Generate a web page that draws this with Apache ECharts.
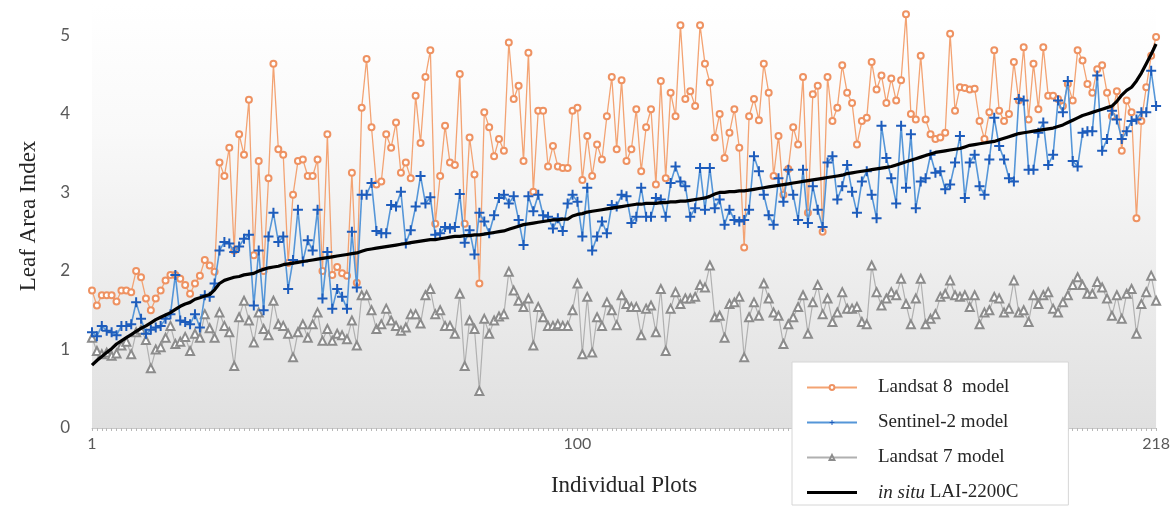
<!DOCTYPE html>
<html>
<head>
<meta charset="utf-8">
<script src="https://cdn.jsdelivr.net/npm/echarts@6/dist/echarts.min.js"></script>
<style>html,body{margin:0;padding:0;background:#fff}#c{width:1173px;height:513px}</style>
</head>
<body>
<div id="c"></div>
<script>
// ---- data ----
const plots = Array.from({length: 218}, (_, i) => String(i + 1));
const xTickLabels = ['1', '100', '218'];
const yTickLabels = [0, 1, 2, 3, 4, 5];

const landsat8 = [
1.75,1.56,1.69,1.69,1.69,1.61,1.75,1.75,1.73,2.00,1.92,1.65,1.50,1.65,1.75,1.88,1.95,1.95,1.90,1.82,
1.71,1.84,1.94,2.14,2.07,1.99,3.38,3.21,3.57,2.26,3.74,3.48,4.18,2.20,3.40,2.00,3.18,4.64,3.55,3.48,
2.10,2.97,3.40,3.42,3.21,3.21,3.42,2.00,3.74,1.95,2.05,1.97,1.94,3.25,1.85,4.08,4.70,3.83,3.10,3.14,
3.74,3.57,3.89,3.25,3.38,3.18,4.23,3.63,4.47,4.81,2.60,3.21,3.85,3.38,3.35,4.51,2.60,3.70,3.23,1.84,
4.02,3.83,3.46,3.68,3.53,4.91,4.19,4.36,3.40,4.78,3.01,4.04,4.04,3.33,3.59,3.33,3.31,3.31,4.04,4.08,
3.16,3.72,3.21,3.61,3.42,3.97,4.47,3.55,4.43,3.40,3.55,4.06,3.27,3.83,4.06,3.10,4.42,3.18,4.27,3.97,
5.13,4.19,4.29,4.10,5.13,4.64,4.40,3.70,4.00,3.44,3.76,4.06,3.57,2.30,3.97,4.19,3.92,4.64,4.27,3.21,
3.72,2.97,3.30,3.83,3.61,4.47,2.74,4.25,4.36,2.50,4.47,3.91,4.08,4.62,4.27,4.14,3.61,3.91,3.95,4.66,
4.31,4.49,4.14,4.45,4.17,4.43,5.27,4.00,3.93,4.74,3.93,3.74,3.68,3.70,3.76,5.02,4.04,4.34,4.33,4.31,
4.32,3.91,3.68,4.02,4.81,4.04,3.91,4.00,4.66,4.17,4.85,3.93,4.64,4.06,4.85,4.23,4.23,4.19,4.10,4.38,
4.17,4.81,4.68,4.38,4.27,4.57,4.62,4.27,3.97,4.29,3.53,4.17,4.02,2.67,3.91,4.34,4.74,4.98
];
const sentinel2 = [
1.22,1.17,1.30,1.24,1.22,1.18,1.30,1.30,1.32,1.60,1.39,1.20,1.25,1.28,1.30,1.39,1.45,1.95,1.37,1.35,
1.32,1.45,1.28,1.69,1.67,1.84,2.26,2.37,2.35,2.24,2.31,2.41,2.46,1.56,2.26,1.50,2.44,2.74,2.37,2.44,
1.77,2.14,2.78,2.12,2.39,2.26,2.78,1.65,2.24,1.52,1.77,1.67,1.52,2.50,1.79,2.97,2.97,3.12,2.51,2.48,
2.48,2.84,2.82,3.01,2.35,2.52,2.82,3.21,2.86,2.94,2.46,2.48,2.56,2.54,2.56,2.98,2.36,2.52,2.21,2.74,
2.63,2.48,2.71,2.93,2.97,2.86,2.95,2.65,2.33,2.95,2.76,2.97,2.71,2.69,2.54,2.67,2.51,2.86,2.97,2.88,
2.44,3.06,2.26,2.44,2.63,2.48,2.84,2.82,2.97,2.95,2.61,2.69,3.06,2.69,2.69,2.93,2.91,2.69,3.12,3.33,
3.14,3.08,2.69,2.80,3.31,2.78,3.31,2.80,2.91,2.59,2.78,2.65,2.63,2.65,2.78,3.46,3.27,2.97,2.71,2.59,
3.18,2.88,3.29,2.97,2.65,3.29,2.61,3.08,2.78,2.56,3.38,3.46,2.91,3.08,3.35,3.01,2.74,3.14,3.27,2.97,
2.67,3.85,3.44,3.18,2.86,3.85,3.06,3.74,2.80,3.14,3.18,3.48,3.25,3.27,3.04,3.10,3.38,3.72,2.93,3.38,
3.48,3.08,2.97,3.42,3.95,3.59,3.42,3.18,3.14,4.19,4.17,3.29,3.29,3.76,3.89,3.35,3.48,4.17,4.02,4.42,
3.40,3.33,3.76,3.78,3.78,4.49,3.53,3.68,4.04,3.93,3.68,3.78,3.91,3.93,4.02,4.02,4.55,4.10
];
const landsat7 = [
1.15,0.98,0.94,0.96,0.92,0.95,1.05,1.10,0.94,1.22,1.25,1.12,0.76,1.00,1.03,1.15,1.30,1.07,1.10,1.16,
0.98,1.20,1.15,1.45,1.27,1.15,1.47,1.30,1.22,0.79,1.41,1.62,1.37,1.09,1.47,1.26,1.18,1.62,1.32,1.30,
1.20,0.90,1.22,1.32,1.15,1.32,1.47,1.11,1.26,1.11,1.20,1.18,1.13,1.37,1.05,1.69,1.69,1.50,1.26,1.32,
1.52,1.37,1.30,1.24,1.28,1.45,1.45,1.33,1.69,1.77,1.45,1.50,1.30,1.30,1.20,1.71,0.79,1.37,1.26,0.47,
1.39,1.20,1.37,1.42,1.45,1.99,1.75,1.62,1.54,1.65,1.05,1.54,1.41,1.30,1.30,1.32,1.30,1.30,1.50,1.84,
0.94,1.67,0.96,1.41,1.30,1.60,1.50,1.31,1.69,1.58,1.54,1.54,1.18,1.52,1.56,1.22,1.77,0.98,1.52,1.73,
1.58,1.65,1.65,1.67,1.82,1.79,2.07,1.41,1.43,1.15,1.58,1.60,1.67,0.90,1.41,1.60,1.43,1.84,1.65,1.47,
1.43,1.07,1.32,1.41,1.54,1.69,1.20,1.60,1.82,1.45,1.65,1.35,1.47,1.73,1.52,1.52,1.54,1.35,1.32,2.07,
1.73,1.56,1.65,1.73,1.69,1.90,1.58,1.32,1.65,1.90,1.32,1.39,1.45,1.67,1.71,1.88,1.69,1.67,1.69,1.54,
1.69,1.32,1.47,1.50,1.67,1.65,1.47,1.52,1.88,1.47,1.50,1.35,1.69,1.58,1.69,1.73,1.52,1.47,1.60,1.69,
1.82,1.92,1.82,1.71,1.71,1.86,1.79,1.65,1.43,1.69,1.39,1.71,1.77,1.20,1.58,1.73,1.94,1.62
];
const inSitu = [
0.80,0.86,0.91,0.96,1.01,1.07,1.11,1.15,1.19,1.23,1.27,1.30,1.34,1.38,1.41,1.44,1.47,1.51,1.55,1.58,
1.60,1.64,1.66,1.68,1.70,1.76,1.84,1.88,1.90,1.92,1.93,1.95,1.96,1.97,2.00,2.02,2.04,2.05,2.06,2.08,
2.09,2.10,2.11,2.12,2.13,2.14,2.15,2.16,2.17,2.18,2.19,2.20,2.21,2.22,2.23,2.25,2.27,2.28,2.29,2.30,
2.31,2.32,2.33,2.34,2.35,2.36,2.37,2.38,2.39,2.40,2.40,2.41,2.42,2.43,2.44,2.44,2.45,2.45,2.46,2.46,
2.47,2.48,2.49,2.50,2.51,2.53,2.55,2.57,2.59,2.60,2.61,2.62,2.63,2.64,2.65,2.65,2.66,2.66,2.70,2.72,
2.73,2.75,2.76,2.77,2.78,2.79,2.80,2.81,2.82,2.83,2.84,2.85,2.85,2.86,2.86,2.86,2.87,2.87,2.88,2.88,
2.89,2.89,2.90,2.91,2.92,2.93,2.95,2.98,3.00,3.00,3.01,3.01,3.02,3.02,3.03,3.04,3.05,3.06,3.07,3.08,
3.09,3.10,3.11,3.12,3.13,3.14,3.15,3.16,3.17,3.18,3.19,3.20,3.21,3.22,3.24,3.25,3.26,3.27,3.28,3.29,
3.30,3.31,3.32,3.33,3.35,3.37,3.39,3.41,3.43,3.45,3.47,3.49,3.51,3.52,3.53,3.54,3.55,3.56,3.58,3.60,
3.61,3.62,3.63,3.64,3.65,3.67,3.69,3.71,3.73,3.75,3.76,3.77,3.78,3.79,3.80,3.81,3.82,3.84,3.86,3.89,
3.92,3.95,3.98,4.00,4.02,4.04,4.06,4.08,4.10,4.16,4.24,4.30,4.34,4.42,4.52,4.64,4.76,4.89
];
const seriesNames = ['Landsat 8  model', 'Sentinel-2 model', 'Landsat 7 model', 'in situ LAI-2200C'];

// ---- chart ----
const chart = echarts.init(document.getElementById('c'), null, {renderer: 'canvas'});
const serif = '"Liberation Serif", "DejaVu Serif", serif';
const plus = 'path://M4,0H6V4H10V6H6V10H4V6H0V4H4Z';
chart.setOption({
  animation: false,
  grid: {
    left: 92, right: 10, top: 4, bottom: 85,
    show: true, borderWidth: 0,
    backgroundColor: new echarts.graphic.LinearGradient(0, 0, 0, 1, [
      {offset: 0, color: '#ffffff'},
      {offset: 0.3, color: '#f9f9f9'},
      {offset: 1, color: '#e0e0e0'}
    ])
  },
  xAxis: {
    type: 'category',
    data: plots,
    boundaryGap: false,
    name: 'Individual Plots',
    nameLocation: 'middle',
    nameGap: 46,
    nameTextStyle: {fontFamily: serif, fontSize: 23, color: '#262626'},
    axisLine: {lineStyle: {color: '#c8c8c8', width: 1}},
    axisTick: {show: true, interval: 0, length: 3, lineStyle: {color: '#b8b8b8'}},
    axisLabel: {
      interval: 0,
      formatter: v => (xTickLabels.indexOf(v) >= 0 ? v : ''),
      fontFamily: 'Lato, "Open Sans", sans-serif', fontSize: 16, color: '#595959', margin: 8
    },
    splitLine: {show: false}
  },
  yAxis: {
    type: 'value',
    min: 0, max: 5.4, interval: 1,
    name: 'Leaf Area Index',
    nameLocation: 'middle',
    nameGap: 52,
    nameRotate: 90,
    nameTextStyle: {fontFamily: serif, fontSize: 23, color: '#262626'},
    axisLine: {show: false},
    axisTick: {show: false},
    splitLine: {show: false},
    axisLabel: {
      formatter: v => (yTickLabels.indexOf(v) >= 0 ? String(v) : ''),
      fontFamily: 'Lato, "Open Sans", sans-serif', fontSize: 17, color: '#595959', margin: 22
    }
  },
  legend: {
    orient: 'vertical',
    left: 792, top: 362,
    padding: [16, 50, 3, 14],
    backgroundColor: '#ffffff',
    borderColor: '#d6d6d6', borderWidth: 1,
    itemWidth: 50, itemHeight: 6, itemGap: 16,
    data: [
      {name: seriesNames[0]},
      {name: seriesNames[1]},
      {name: seriesNames[2]},
      {name: seriesNames[3], icon: 'path://M0,0H50V3.2H0Z'}
    ],
    textStyle: {
      fontFamily: serif, fontSize: 19, color: '#262626', padding: [0, 0, 0, 16],
      rich: {i: {fontFamily: serif, fontStyle: 'italic', fontSize: 19, color: '#262626'}}
    },
    formatter: name => (name === seriesNames[3] ? '{i|in situ} LAI-2200C' : name)
  },
  series: [
    {
      name: seriesNames[0], type: 'line', data: landsat8,
      symbol: 'emptyCircle', symbolSize: 6,
      lineStyle: {color: '#f3a373', width: 1.3},
      itemStyle: {color: '#ee9262', borderColor: '#ee9262', borderWidth: 1},
      emphasis: {disabled: true}, z: 2
    },
    {
      name: seriesNames[1], type: 'line', data: sentinel2,
      symbol: plus, symbolSize: 10,
      lineStyle: {color: '#5596d8', width: 1.6},
      itemStyle: {color: '#1d5cbc'},
      emphasis: {disabled: true}, z: 3
    },
    {
      name: seriesNames[2], type: 'line', data: landsat7,
      symbol: 'emptyTriangle', symbolSize: 8,
      lineStyle: {color: '#b0b0b0', width: 1.2},
      itemStyle: {color: '#8c8c8c', borderColor: '#8c8c8c', borderWidth: 1},
      emphasis: {disabled: true}, z: 2
    },
    {
      name: seriesNames[3], type: 'line', data: inSitu,
      symbol: 'none', showSymbol: false,
      lineStyle: {color: '#000000', width: 3.2},
      itemStyle: {color: '#000000'},
      emphasis: {disabled: true}, z: 4
    }
  ]
});
</script>
</body>
</html>
